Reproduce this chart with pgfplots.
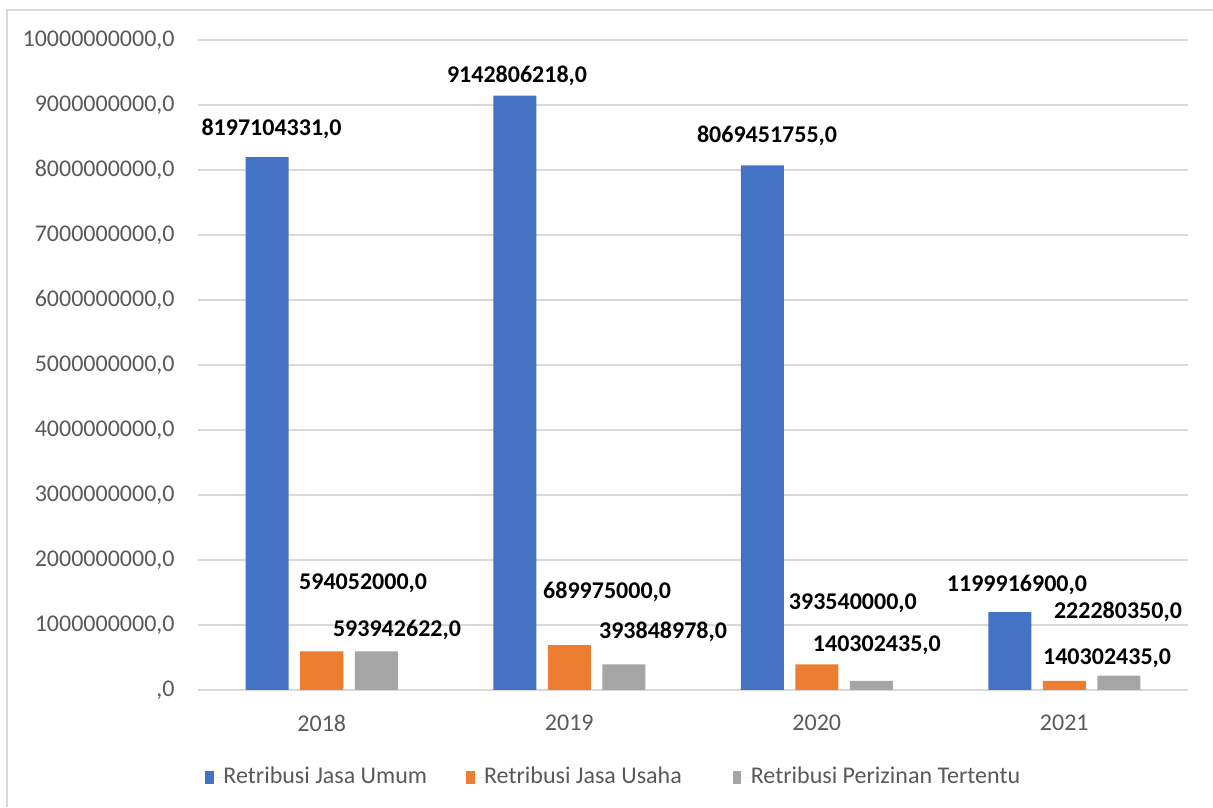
\documentclass[border=0pt]{standalone}
\usepackage{fontspec}
\setmainfont{Carlito}
\usepackage{pgfplots}
\pgfplotsset{compat=1.18}
\definecolor{cblue}{HTML}{4472C4}
\definecolor{corange}{HTML}{ED7D31}
\definecolor{cgray}{HTML}{A5A5A5}
\definecolor{cgrid}{HTML}{D9D9D9}
\definecolor{ctext}{HTML}{595959}
\begin{document}
\begin{tikzpicture}
\useasboundingbox (-99pt,-58.5pt) rectangle (507.5pt,345pt);
\draw[cgrid, line width=0.9pt] (-95.5pt,-58.5pt) -- (-95.5pt,340pt) -- (507.5pt,340pt);
\begin{axis}[
  at={(0,0)}, anchor=south west,
  scale only axis,
  width=495pt, height=325pt,
  xmin=-0.5, xmax=3.5,
  ymin=0, ymax=10000000000,
  ytick={0,1000000000,2000000000,3000000000,4000000000,5000000000,6000000000,7000000000,8000000000,9000000000,10000000000},
  yticklabels={{,0},{1000000000,0},{2000000000,0},{3000000000,0},{4000000000,0},{5000000000,0},{6000000000,0},{7000000000,0},{8000000000,0},{9000000000,0},{10000000000,0}},
  xtick={0,1,2,3},
  xticklabels={2018,2019,2020,2021},
  scaled y ticks=false,
  major tick length=0pt,
  axis line style={draw=none},
  ymajorgrids,
  grid style={cgrid, line width=0.8pt},
  yticklabel style={font=\fontsize{12}{14}\selectfont, text=ctext, anchor=east, inner sep=0pt, xshift=-11.5pt},
  xticklabel style={font=\fontsize{12}{14}\selectfont, text=ctext, anchor=north, inner sep=0pt, yshift=-12.5pt},
  ybar,
  bar width=21.5pt,
  clip=false,
  legend columns=3,
  legend style={at={(0.419,-0.134)}, anchor=center, draw=none, fill=none,
    inner sep=0pt,
    nodes={inner sep=0pt, font=\fontsize{12}{14}\selectfont, text=ctext},
    /tikz/column 2/.style={column sep=19.5pt},
    /tikz/column 4/.style={column sep=25.5pt}},
  legend image code/.code={\fill[#1] (0pt,-3.2pt) rectangle (4.2pt,3.2pt); \path (0pt,0pt) -- (9pt,0pt);},
]
\addplot[fill=cblue, draw=none, bar shift=-27.25pt] coordinates {(0,8197104331) (1,9142806218) (2,8069451755) (3,1199916900)};
\addlegendentry{Retribusi Jasa Umum}
\addplot[fill=corange, draw=none, bar shift=0pt] coordinates {(0,594052000) (1,689975000) (2,393540000) (3,140302435)};
\addlegendentry{Retribusi Jasa Usaha}
\addplot[fill=cgray, draw=none, bar shift=27.25pt] coordinates {(0,593942622) (1,393848978) (2,140302435) (3,222280350)};
\addlegendentry{Retribusi Perizinan Tertentu}
\begin{scope}[every node/.style={font=\bfseries\fontsize{12}{14}\selectfont, inner sep=0pt}]
\node at (axis cs:-0.203,8630000000) {8197104331,0};
\node at (axis cs:0.789,9446000000) {9142806218,0};
\node at (axis cs:1.799,8523000000) {8069451755,0};
\node at (axis cs:2.809,1615000000) {1199916900,0};
\node at (axis cs:0.167,1646000000) {594052000,0};
\node at (axis cs:0.304,923000000) {593942622,0};
\node at (axis cs:1.153,1508000000) {689975000,0};
\node at (axis cs:1.379,892000000) {393848978,0};
\node at (axis cs:2.146,1338000000) {393540000,0};
\node at (axis cs:2.243,692000000) {140302435,0};
\node at (axis cs:3.217,1200000000) {222280350,0};
\node at (axis cs:3.173,492000000) {140302435,0};
\end{scope}
\end{axis}
\end{tikzpicture}
\end{document}
